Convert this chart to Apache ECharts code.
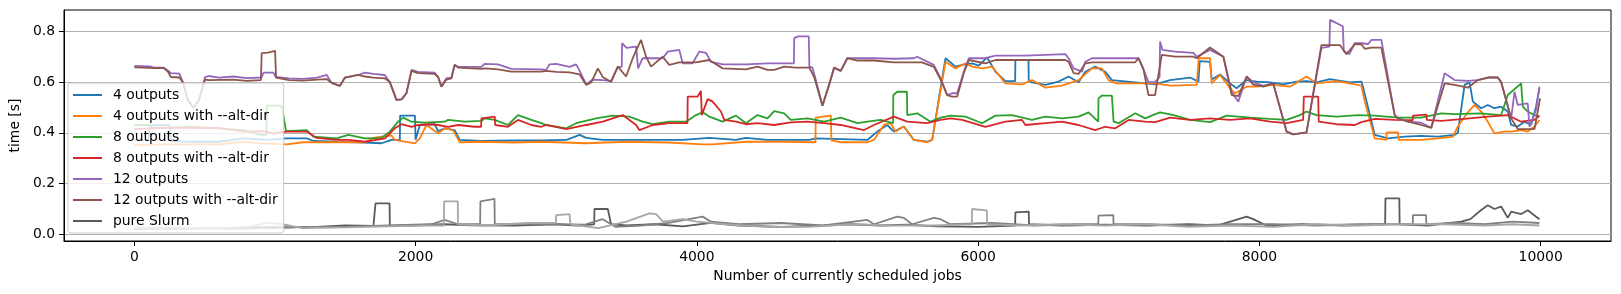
<!DOCTYPE html>
<html>
<head>
<meta charset="utf-8">
<script src="https://cdn.jsdelivr.net/npm/echarts@6/dist/echarts.min.js"></script>
<style>html,body{margin:0;padding:0;background:#fff}#c{width:1621px;height:294px}</style>
</head>
<body>
<div id="c"></div>
<script>
const xTicks = [0, 2000, 4000, 6000, 8000, 10000];
const yTicks = [0.0, 0.2, 0.4, 0.6, 0.8];
const seriesNames = ["4 outputs", "4 outputs with --alt-dir", "8 outputs", "8 outputs with --alt-dir", "12 outputs", "12 outputs with --alt-dir", "pure Slurm"];

const out4 = [[0,0.372],[100,0.372],[110,0.43],[250,0.43],[260,0.368],[400,0.365],[600,0.365],[776,0.378],[942,0.372],[1084,0.378],[1226,0.378],[1273,0.368],[1439,0.365],[1640,0.362],[1758,0.359],[1829,0.372],[1888,0.372],[1890,0.468],[1995,0.468],[2000,0.373],[2030,0.431],[2136,0.434],[2160,0.407],[2207,0.418],[2278,0.411],[2314,0.372],[2468,0.368],[2700,0.37],[2894,0.37],[3071,0.372],[3166,0.392],[3213,0.38],[3331,0.372],[3600,0.372],[3900,0.372],[4088,0.38],[4278,0.372],[4349,0.38],[4500,0.372],[4800,0.372],[4845,0.378],[5212,0.372],[5283,0.405],[5354,0.431],[5401,0.405],[5472,0.425],[5543,0.372],[5638,0.365],[5673,0.372],[5768,0.694],[5839,0.661],[5886,0.668],[5957,0.674],[6005,0.665],[6064,0.697],[6123,0.641],[6194,0.604],[6263,0.604],[6265,0.687],[6358,0.687],[6360,0.604],[6383,0.599],[6478,0.589],[6572,0.602],[6643,0.622],[6714,0.599],[6762,0.641],[6832,0.661],[6903,0.641],[6951,0.608],[7188,0.595],[7259,0.591],[7365,0.608],[7507,0.618],[7566,0.602],[7576,0.683],[7649,0.68],[7661,0.61],[7720,0.63],[7791,0.595],[7838,0.576],[7909,0.608],[7980,0.602],[8075,0.599],[8169,0.591],[8264,0.602],[8335,0.604],[8406,0.599],[8501,0.612],[8643,0.599],[8725,0.602],[8737,0.58],[8820,0.392],[8914,0.378],[9033,0.385],[9151,0.388],[9270,0.385],[9388,0.392],[9411,0.40],[9459,0.589],[9494,0.599],[9518,0.523],[9577,0.497],[9624,0.51],[9671,0.497],[9719,0.503],[9766,0.484],[9790,0.431],[9837,0.425],[9885,0.444],[9932,0.431],[9967,0.503],[9991,0.575]];

const out4alt = [[0,0.352],[200,0.355],[400,0.355],[600,0.355],[776,0.365],[894,0.359],[1084,0.355],[1200,0.363],[1439,0.363],[1640,0.363],[1700,0.38],[1758,0.385],[1829,0.39],[1852,0.372],[1995,0.359],[2030,0.378],[2077,0.431],[2136,0.407],[2160,0.398],[2207,0.418],[2266,0.411],[2314,0.363],[2468,0.365],[2700,0.362],[2894,0.365],[3213,0.359],[3500,0.365],[3800,0.362],[4041,0.355],[4112,0.355],[4349,0.365],[4600,0.365],[4843,0.363],[4845,0.46],[4952,0.468],[4957,0.37],[5023,0.363],[5212,0.363],[5259,0.372],[5330,0.431],[5378,0.438],[5413,0.405],[5472,0.425],[5543,0.372],[5638,0.363],[5673,0.372],[5768,0.68],[5839,0.654],[5910,0.674],[5957,0.661],[6028,0.654],[6099,0.661],[6194,0.595],[6312,0.591],[6383,0.608],[6478,0.578],[6596,0.586],[6714,0.608],[6809,0.654],[6880,0.654],[6927,0.608],[6980,0.595],[7259,0.595],[7365,0.586],[7554,0.589],[7569,0.694],[7649,0.694],[7661,0.595],[7720,0.628],[7791,0.576],[7826,0.556],[7909,0.582],[7980,0.582],[8098,0.589],[8217,0.582],[8335,0.622],[8406,0.595],[8548,0.604],[8643,0.595],[8725,0.586],[8749,0.523],[8820,0.378],[8903,0.372],[8905,0.402],[8986,0.402],[8990,0.372],[9151,0.372],[9270,0.378],[9376,0.385],[9411,0.425],[9482,0.481],[9530,0.51],[9577,0.484],[9624,0.444],[9671,0.398],[9742,0.405],[9790,0.405],[9861,0.411],[9908,0.405],[9956,0.425],[9991,0.451]];

const out8 = [[0,0.431],[120,0.431],[125,0.418],[400,0.424],[776,0.411],[894,0.392],[940,0.392],[942,0.507],[1048,0.507],[1079,0.407],[1226,0.411],[1273,0.385],[1439,0.378],[1521,0.392],[1640,0.378],[1758,0.38],[1817,0.405],[1876,0.444],[1912,0.46],[1971,0.444],[2065,0.44],[2207,0.444],[2231,0.451],[2349,0.444],[2468,0.447],[2491,0.457],[2563,0.451],[2657,0.431],[2728,0.47],[2823,0.451],[2894,0.438],[2929,0.431],[3071,0.418],[3142,0.438],[3284,0.457],[3402,0.468],[3520,0.464],[3615,0.444],[3686,0.434],[3804,0.444],[3923,0.444],[3994,0.47],[4041,0.481],[4088,0.464],[4183,0.444],[4278,0.468],[4349,0.438],[4431,0.47],[4502,0.457],[4550,0.486],[4621,0.477],[4668,0.451],[4786,0.457],[4905,0.444],[5023,0.46],[5141,0.438],[5212,0.444],[5307,0.451],[5395,0.438],[5397,0.549],[5425,0.562],[5494,0.562],[5496,0.47],[5567,0.477],[5662,0.444],[5733,0.46],[5804,0.468],[5910,0.464],[6028,0.438],[6123,0.468],[6241,0.47],[6383,0.451],[6478,0.464],[6596,0.457],[6714,0.464],[6785,0.481],[6854,0.444],[6856,0.536],[6880,0.547],[6951,0.547],[6963,0.444],[6998,0.438],[7117,0.477],[7188,0.457],[7259,0.474],[7294,0.481],[7389,0.47],[7507,0.451],[7649,0.442],[7767,0.468],[7933,0.46],[8075,0.455],[8193,0.451],[8288,0.47],[8335,0.484],[8406,0.47],[8548,0.464],[8700,0.47],[8820,0.468],[8986,0.46],[9151,0.46],[9293,0.477],[9388,0.474],[9577,0.477],[9719,0.47],[9766,0.549],[9861,0.595],[9873,0.503],[9908,0.484],[9956,0.47],[9991,0.464]];

const out8alt = [[0,0.415],[200,0.42],[400,0.42],[600,0.42],[776,0.405],[918,0.407],[989,0.398],[1084,0.405],[1226,0.405],[1297,0.38],[1439,0.372],[1521,0.372],[1640,0.365],[1782,0.378],[1852,0.418],[1900,0.434],[1971,0.424],[2018,0.431],[2113,0.434],[2160,0.431],[2231,0.424],[2302,0.431],[2420,0.424],[2466,0.424],[2468,0.457],[2563,0.464],[2566,0.431],[2657,0.424],[2728,0.451],[2823,0.431],[2894,0.424],[2929,0.431],[3071,0.415],[3213,0.431],[3331,0.444],[3473,0.47],[3568,0.431],[3591,0.411],[3686,0.431],[3804,0.438],[3933,0.438],[3935,0.543],[4006,0.543],[4029,0.565],[4035,0.47],[4077,0.533],[4112,0.523],[4171,0.484],[4195,0.451],[4278,0.444],[4349,0.434],[4431,0.438],[4550,0.431],[4668,0.441],[4786,0.444],[4905,0.438],[5023,0.431],[5188,0.411],[5259,0.431],[5401,0.464],[5496,0.444],[5638,0.438],[5733,0.451],[5804,0.457],[5886,0.451],[6052,0.424],[6194,0.444],[6312,0.451],[6336,0.431],[6478,0.438],[6596,0.444],[6714,0.431],[6832,0.411],[6903,0.424],[6975,0.418],[7070,0.451],[7188,0.444],[7259,0.442],[7365,0.46],[7507,0.451],[7649,0.457],[7791,0.451],[7933,0.457],[8075,0.444],[8193,0.438],[8311,0.451],[8316,0.543],[8418,0.543],[8422,0.444],[8548,0.434],[8678,0.431],[8725,0.442],[8820,0.455],[8962,0.451],[9090,0.45],[9092,0.468],[9187,0.472],[9190,0.451],[9293,0.447],[9459,0.455],[9624,0.464],[9766,0.47],[9861,0.444],[9956,0.451],[9991,0.468]];

const out12 = [[0,0.664],[110,0.662],[140,0.657],[210,0.657],[240,0.645],[260,0.635],[320,0.633],[345,0.60],[380,0.53],[421,0.499],[460,0.53],[503,0.62],[530,0.624],[600,0.618],[705,0.622],[800,0.616],[905,0.618],[918,0.637],[990,0.637],[1005,0.62],[1100,0.615],[1200,0.613],[1300,0.618],[1368,0.628],[1403,0.597],[1462,0.585],[1498,0.618],[1592,0.628],[1640,0.637],[1700,0.632],[1780,0.628],[1817,0.60],[1864,0.53],[1900,0.532],[1935,0.556],[1971,0.648],[2018,0.64],[2136,0.637],[2160,0.62],[2184,0.582],[2219,0.615],[2255,0.618],[2278,0.668],[2302,0.66],[2468,0.66],[2491,0.672],[2586,0.67],[2681,0.652],[2894,0.65],[2929,0.648],[2953,0.67],[3000,0.672],[3095,0.66],[3142,0.67],[3166,0.645],[3213,0.591],[3260,0.61],[3331,0.608],[3390,0.605],[3438,0.66],[3466,0.66],[3468,0.753],[3500,0.735],[3568,0.74],[3575,0.746],[3582,0.654],[3615,0.694],[3757,0.694],[3793,0.72],[3875,0.727],[3899,0.674],[3970,0.674],[4017,0.72],[4065,0.715],[4100,0.68],[4183,0.67],[4349,0.67],[4500,0.674],[4690,0.674],[4692,0.773],[4720,0.78],[4796,0.78],[4800,0.661],[4822,0.657],[4850,0.6],[4893,0.507],[4940,0.589],[4976,0.657],[5023,0.644],[5070,0.694],[5259,0.694],[5400,0.692],[5543,0.694],[5567,0.70],[5685,0.668],[5733,0.615],[5780,0.549],[5815,0.556],[5851,0.556],[5898,0.641],[5934,0.694],[6052,0.694],[6123,0.704],[6336,0.704],[6620,0.71],[6643,0.694],[6679,0.654],[6738,0.641],[6762,0.68],[6809,0.694],[7117,0.694],[7140,0.694],[7176,0.65],[7211,0.60],[7258,0.60],[7290,0.62],[7294,0.76],[7310,0.727],[7400,0.72],[7531,0.715],[7554,0.70],[7649,0.727],[7744,0.70],[7803,0.56],[7850,0.523],[7909,0.622],[7956,0.60],[8027,0.585],[8098,0.595],[8193,0.405],[8240,0.394],[8335,0.402],[8441,0.735],[8498,0.74],[8502,0.845],[8593,0.82],[8600,0.722],[8640,0.71],[8678,0.753],[8725,0.753],[8773,0.75],[8796,0.766],[8867,0.766],[8879,0.773],[8962,0.47],[8986,0.457],[9057,0.444],[9151,0.44],[9222,0.42],[9317,0.635],[9388,0.608],[9482,0.605],[9553,0.608],[9624,0.618],[9695,0.618],[9719,0.60],[9790,0.457],[9814,0.562],[9837,0.51],[9908,0.516],[9920,0.424],[9967,0.49],[9991,0.582]];

const out12alt = [[0,0.658],[110,0.656],[140,0.655],[210,0.655],[240,0.64],[260,0.62],[320,0.618],[345,0.60],[380,0.53],[421,0.499],[460,0.53],[503,0.61],[530,0.608],[700,0.61],[800,0.605],[900,0.608],[906,0.714],[950,0.716],[1001,0.723],[1008,0.618],[1100,0.608],[1200,0.606],[1300,0.61],[1368,0.612],[1403,0.597],[1462,0.585],[1498,0.618],[1592,0.628],[1640,0.622],[1700,0.618],[1780,0.615],[1817,0.60],[1864,0.53],[1900,0.532],[1935,0.556],[1971,0.644],[2018,0.635],[2136,0.632],[2160,0.62],[2184,0.582],[2219,0.61],[2255,0.615],[2278,0.668],[2302,0.657],[2468,0.652],[2491,0.654],[2586,0.65],[2681,0.641],[2894,0.641],[2929,0.644],[3000,0.64],[3095,0.638],[3166,0.63],[3213,0.589],[3250,0.60],[3296,0.654],[3331,0.62],[3390,0.60],[3438,0.661],[3497,0.622],[3544,0.694],[3603,0.766],[3639,0.70],[3674,0.661],[3757,0.70],[3804,0.668],[3875,0.678],[3994,0.678],[4088,0.687],[4183,0.654],[4349,0.65],[4431,0.661],[4502,0.648],[4550,0.648],[4621,0.661],[4700,0.657],[4800,0.657],[4834,0.62],[4893,0.507],[4940,0.589],[4976,0.657],[5023,0.644],[5070,0.694],[5141,0.685],[5259,0.685],[5400,0.678],[5543,0.678],[5600,0.678],[5685,0.66],[5733,0.61],[5780,0.549],[5815,0.543],[5851,0.543],[5898,0.635],[5934,0.687],[6052,0.674],[6123,0.687],[6336,0.687],[6620,0.687],[6643,0.68],[6679,0.635],[6714,0.632],[6762,0.674],[6809,0.678],[7117,0.678],[7140,0.694],[7176,0.65],[7211,0.549],[7258,0.549],[7306,0.707],[7400,0.70],[7531,0.70],[7554,0.694],[7649,0.736],[7744,0.70],[7803,0.549],[7850,0.545],[7909,0.622],[7956,0.59],[8027,0.582],[8098,0.595],[8193,0.405],[8240,0.394],[8335,0.402],[8441,0.746],[8572,0.746],[8619,0.71],[8678,0.749],[8725,0.749],[8749,0.731],[8796,0.736],[8867,0.736],[8879,0.74],[8962,0.47],[8986,0.457],[9057,0.444],[9151,0.431],[9222,0.42],[9317,0.595],[9388,0.589],[9482,0.578],[9553,0.608],[9624,0.618],[9695,0.618],[9719,0.60],[9790,0.457],[9837,0.415],[9956,0.415],[9996,0.536]];

const slurmA = [[0,0.025],[300,0.022],[600,0.025],[1000,0.03],[1100,0.028],[1300,0.03],[1500,0.035],[1700,0.033],[1713,0.035],[1715,0.122],[1815,0.122],[1817,0.033],[2000,0.036],[2200,0.04],[2400,0.036],[2700,0.035],[3000,0.04],[3150,0.035],[3270,0.04],[3272,0.1],[3320,0.1],[3367,0.1],[3390,0.04],[3500,0.035],[3700,0.04],[3900,0.032],[4100,0.045],[4300,0.035],[4600,0.03],[4900,0.035],[5100,0.04],[5300,0.035],[5500,0.038],[5700,0.032],[6000,0.03],[6263,0.035],[6265,0.087],[6360,0.09],[6362,0.04],[6600,0.035],[6900,0.038],[7200,0.035],[7500,0.04],[7700,0.035],[7909,0.07],[7956,0.06],[8050,0.035],[8300,0.04],[8600,0.035],[8894,0.04],[8896,0.142],[8995,0.142],[8997,0.04],[9200,0.035],[9435,0.05],[9500,0.06],[9577,0.096],[9624,0.115],[9671,0.1],[9719,0.11],[9766,0.065],[9790,0.09],[9861,0.08],[9908,0.095],[9991,0.06]];

const slurmB = [[0,0.02],[300,0.025],[700,0.022],[1000,0.025],[1200,0.03],[1500,0.03],[1800,0.035],[2113,0.04],[2207,0.057],[2300,0.04],[2459,0.04],[2461,0.13],[2561,0.14],[2563,0.04],[2800,0.04],[3000,0.04],[3200,0.038],[3331,0.06],[3420,0.03],[3600,0.035],[3800,0.045],[4041,0.07],[4100,0.05],[4300,0.04],[4600,0.045],[4900,0.035],[5212,0.057],[5260,0.04],[5425,0.07],[5472,0.065],[5530,0.04],[5685,0.065],[5733,0.06],[5800,0.04],[6100,0.045],[6400,0.035],[6700,0.04],[6854,0.04],[6856,0.074],[6961,0.076],[6963,0.04],[7200,0.04],[7500,0.035],[7800,0.04],[8100,0.04],[8400,0.035],[8700,0.04],[9090,0.04],[9092,0.076],[9185,0.076],[9187,0.04],[9400,0.045],[9600,0.04],[9800,0.05],[9991,0.045]];

const slurmC = [[0,0.025],[250,0.028],[500,0.022],[800,0.03],[950,0.045],[1050,0.04],[1200,0.025],[1500,0.028],[1800,0.032],[2100,0.035],[2201,0.035],[2203,0.13],[2300,0.13],[2302,0.04],[2500,0.035],[2800,0.045],[2998,0.045],[3000,0.076],[3095,0.08],[3100,0.04],[3300,0.025],[3500,0.05],[3663,0.083],[3710,0.08],[3760,0.05],[3900,0.06],[4000,0.05],[4200,0.04],[4500,0.03],[4800,0.03],[5100,0.04],[5400,0.035],[5700,0.035],[5955,0.04],[5957,0.1],[6062,0.095],[6064,0.04],[6300,0.035],[6600,0.04],[6900,0.035],[7200,0.04],[7500,0.03],[7800,0.035],[8100,0.03],[8400,0.04],[8700,0.035],[9000,0.04],[9300,0.04],[9600,0.035],[9800,0.04],[9991,0.035]];

const FONT = 'DejaVu Sans';
const FS = 13.9;
const colors = ['#1f77b4', '#ff7f0e', '#2ca02c', '#d62728', '#9467bd', '#8c564b', '#5a5a5a', '#808080', '#a6a6a6'];
const datasets = [out4, out4alt, out8, out8alt, out12, out12alt, slurmA, slurmB, slurmC];
const names = seriesNames.concat(['pure Slurm (run 2)', 'pure Slurm (run 3)']);

const chart = echarts.init(document.getElementById('c'), null, {renderer: 'canvas'});
chart.setOption({
  animation: false,
  backgroundColor: '#fff',
  textStyle: {fontFamily: FONT},
  grid: {left: 61, right: 10, top: 10, bottom: 53, show: true, borderColor: '#000', borderWidth: 1, containLabel: false},
  legend: {
    data: seriesNames.map(n => ({name: n, icon: 'rect'})),
    orient: 'vertical', left: 68, top: 83,
    itemWidth: 29, itemHeight: 2, itemGap: 7,
    padding: [5, 6, 5, 5],
    backgroundColor: 'rgba(255,255,255,0.8)',
    borderColor: '#cccccc', borderWidth: 1, borderRadius: 3,
    selectedMode: false,
    textStyle: {fontFamily: FONT, fontSize: FS, color: '#000', lineHeight: 14, padding: [0, 0, 0, 6]}
  },
  xAxis: {
    type: 'value', min: -500, max: 10500,
    name: 'Number of currently scheduled jobs', nameLocation: 'middle', nameGap: 27,
    nameTextStyle: {fontFamily: FONT, fontSize: FS, color: '#000'},
    axisLine: {show: true, onZero: false, lineStyle: {color: '#000', width: 1}},
    axisTick: {show: true, length: 5, lineStyle: {color: '#000'}, customValues: xTicks},
    axisLabel: {fontFamily: FONT, fontSize: FS, color: '#000', margin: 9, customValues: xTicks, formatter: v => String(v)},
    splitLine: {show: false}
  },
  yAxis: {
    type: 'value', min: -0.026, max: 0.884,
    name: 'time [s]', nameLocation: 'middle', nameGap: 40, nameRotate: 90,
    nameTextStyle: {fontFamily: FONT, fontSize: FS, color: '#000'},
    axisLine: {show: true, onZero: false, lineStyle: {color: '#000', width: 1}},
    axisTick: {show: true, length: 5, lineStyle: {color: '#000'}, customValues: yTicks},
    axisLabel: {fontFamily: FONT, fontSize: FS, color: '#000', margin: 9, customValues: yTicks, formatter: v => v.toFixed(1)},
    splitLine: {show: true, lineStyle: {color: '#b0b0b0', width: 1}}
  },
  series: datasets.map((d, i) => ({
    name: names[i], type: 'line', data: d, showSymbol: false, symbol: 'none',
    color: colors[i],
    lineStyle: {color: colors[i], width: 1.8},
    emphasis: {disabled: true}, silent: true
  }))
});
</script>
</body>
</html>
